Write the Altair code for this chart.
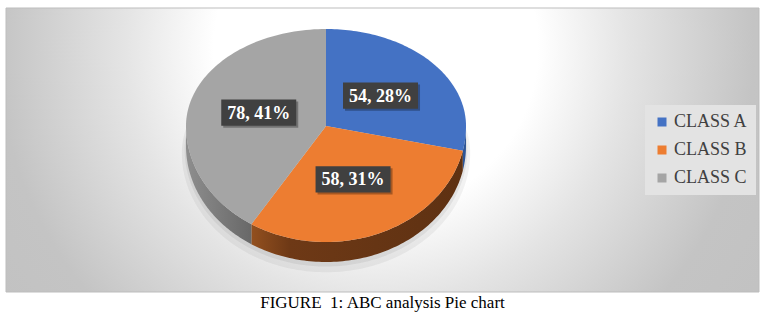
import altair as alt
import pandas as pd

categories = ["CLASS A", "CLASS B", "CLASS C"]
values = [54, 58, 78]
top_colors = ["#4472C4", "#ED7D31", "#A5A5A5"]
caption = "FIGURE\u00a0 1: ABC analysis Pie chart"

df = pd.DataFrame({"category": categories, "value": values, "idx": list(range(len(categories)))})

# layout (pixels of the plot area = chart box)
W, H = 753, 284
CX, CY = 320, 118          # pie centre
RX, RY = 140, 97           # horizontal radius, back vertical radius
FRONT = 116 / 97           # perspective: front half is taller
DEPTH = 20 / 97            # 3D thickness
N = 90

xs = alt.Scale(domain=[-CX / RX, (W - CX) / RX], nice=False, zero=False)
ys = alt.Scale(domain=[-(H - CY) / RY, CY / RY], nice=False, zero=False)
X = alt.X("px:Q", scale=xs, axis=None)
Y = alt.Y("py:Q", scale=ys, axis=None)

base = (
    alt.Chart(df)
    .transform_joinaggregate(total="sum(value)")
    .transform_window(cum="sum(value)", sort=[alt.SortField("idx")], frame=[None, 0])
    .transform_calculate(
        a0="2*PI*(datum.cum - datum.value)/datum.total",
        a1="2*PI*datum.cum/datum.total",
        pct="round(100*datum.value/datum.total)",
    )
)


def face(scale=1.0, shift=0.0):
    return (
        base.transform_calculate(t=f"sequence(-1, {N + 1})")
        .transform_flatten(["t"])
        .transform_calculate(
            ang=f"datum.a0 + (datum.a1 - datum.a0)*max(datum.t, 0)/{N}",
            px=f"datum.t < 0 ? 0 : {scale}*sin(datum.ang)",
            c=f"datum.t < 0 ? 0 : {scale}*cos(datum.ang)",
            py=f"(datum.c >= 0 ? datum.c : datum.c*{FRONT}) - {shift}",
        )
    )


def side(cat, fill):
    return (
        base.transform_filter(alt.datum.category == cat)
        .transform_calculate(s0="max(datum.a0, PI/2)", s1="min(datum.a1, 3*PI/2)")
        .transform_filter("datum.s1 > datum.s0")
        .transform_calculate(t=f"sequence(0, {2 * N + 2})")
        .transform_flatten(["t"])
        .transform_calculate(
            k=f"datum.t <= {N} ? datum.t : {2 * N + 1} - datum.t",
            ang=f"datum.s0 + (datum.s1 - datum.s0)*datum.k/{N}",
            px="sin(datum.ang)",
            c="cos(datum.ang)",
            py=f"(datum.c >= 0 ? datum.c : datum.c*{FRONT}) - (datum.t <= {N} ? 0 : {DEPTH})",
        )
        .mark_line(filled=True, fill=fill, strokeWidth=0)
        .encode(x=X, y=Y, order=alt.Order("t:Q"))
    )


one = alt.Chart(pd.DataFrame({"k": [0]}))

bg = one.mark_rect(
    clip=True,
    fill=alt.RadialGradient(
        gradient="radial", x1=0.5, y1=0.5, r1=0, x2=0.5, y2=0.5, r2=0.5,
        stops=[
            alt.GradientStop(offset=0, color="#ffffff"),
            alt.GradientStop(offset=0.36, color="#ffffff"),
            alt.GradientStop(offset=0.56, color="#e4e4e4"),
            alt.GradientStop(offset=0.84, color="#c4c4c4"),
            alt.GradientStop(offset=1, color="#c2c2c2"),
        ],
    ),
).encode(x=alt.value(-80), x2=alt.value(820), y=alt.value(-410), y2=alt.value(490))

border = one.mark_rect(fill="transparent", stroke="#bdbdbd", strokeWidth=1).encode(
    x=alt.value(0), x2=alt.value(W), y=alt.value(0), y2=alt.value(H)
)

shadow1 = face(1.03, DEPTH + 0.07).mark_line(filled=True, fill="#000000", opacity=0.05, strokeWidth=0).encode(
    x=X, y=Y, order=alt.Order("t:Q"), detail="category:N")
shadow2 = face(1.01, DEPTH + 0.035).mark_line(filled=True, fill="#000000", opacity=0.06, strokeWidth=0).encode(
    x=X, y=Y, order=alt.Order("t:Q"), detail="category:N")

side_a = side(categories[0], "#2E5596")
side_b = side(
    categories[1],
    alt.LinearGradient(
        gradient="linear", x1=0, y1=0, x2=1, y2=0,
        stops=[
            alt.GradientStop(offset=0, color="#93501F"),
            alt.GradientStop(offset=0.18, color="#6E3916"),
            alt.GradientStop(offset=1, color="#5E3112"),
        ],
    ),
)
side_c = side(
    categories[2],
    alt.LinearGradient(
        gradient="linear", x1=0, y1=0, x2=1, y2=0,
        stops=[
            alt.GradientStop(offset=0, color="#8E8E8E"),
            alt.GradientStop(offset=1, color="#686868"),
        ],
    ),
)

top = face().mark_line(filled=True, strokeWidth=0).encode(
    x=X,
    y=Y,
    order=alt.Order("t:Q"),
    color=alt.Color(
        "category:N",
        scale=alt.Scale(domain=categories, range=top_colors),
        legend=alt.Legend(
            title=None, orient="none", legendX=639, legendY=97,
            symbolType="square", symbolSize=81, symbolStrokeWidth=0, symbolOpacity=1,
            labelFont="Liberation Serif", labelFontSize=18, labelColor="#404040",
            labelOffset=3, rowPadding=10, padding=8, fillColor="#e3e3e3",
        ),
    ),
)

lab = base.transform_calculate(
    mid="(datum.a0 + datum.a1)/2",
    lx="0.5*sin(datum.mid)",
    lc="0.5*cos(datum.mid)",
    ly=f"datum.lc >= 0 ? datum.lc : datum.lc*{FRONT}",
    label="datum.value + ', ' + datum.pct + '%'",
)
LX = alt.X("lx:Q", scale=xs, axis=None)
LY = alt.Y("ly:Q", scale=ys, axis=None)
BOX = "M-1,-0.35H1V0.35H-1Z"
box_shadow = lab.mark_point(shape=BOX, size=75 ** 2, filled=True, color="#000000", opacity=0.3,
                            strokeWidth=0, xOffset=2, yOffset=2).encode(x=LX, y=LY)
box = lab.mark_point(shape=BOX, size=75 ** 2, filled=True, color="#404040", opacity=1,
                     strokeWidth=0).encode(x=LX, y=LY)
txt = lab.mark_text(font="Liberation Serif", fontWeight="bold", fontSize=18, color="#ffffff", dy=1).encode(
    x=LX, y=LY, text="label:N")

chart = (
    alt.layer(bg, border, shadow1, shadow2, side_a, side_b, side_c, top, box_shadow, box, txt)
    .properties(
        width=W,
        height=H,
        padding={"left": 6, "top": 8, "right": 15, "bottom": 29},
        autosize=alt.AutoSizeParams(type="none"),
        title=alt.TitleParams(
            text=caption, orient="bottom", anchor="middle", font="Liberation Serif",
            fontSize=17, fontWeight="normal", color="#000000", offset=2, baseline="top",
        ),
    )
    .configure_view(stroke=None)
)

chart.save("out.html", embed_options={"renderer": "svg", "actions": False})
